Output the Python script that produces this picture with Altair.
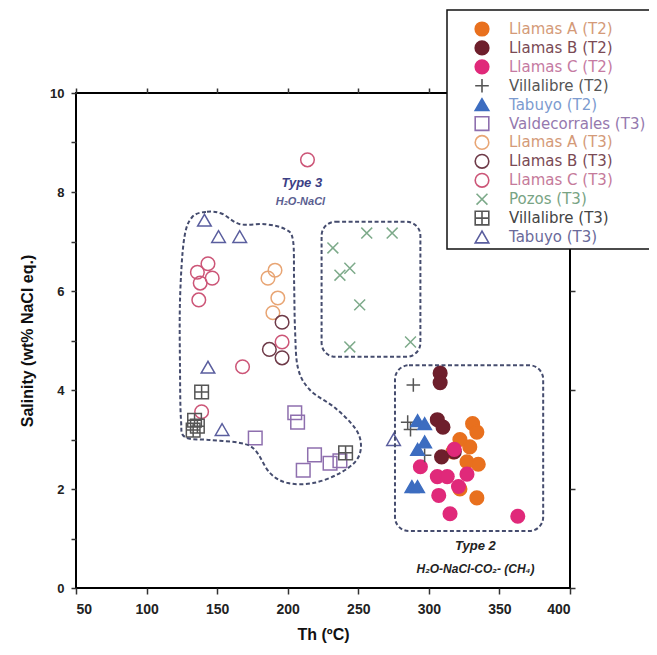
import altair as alt
import pandas as pd

# ---------------- series definitions ----------------
series_names = ["Llamas A (T2)", "Llamas B (T2)", "Llamas C (T2)", "Villalibre (T2)", "Tabuyo (T2)",
                "Valdecorrales (T3)", "Llamas A (T3)", "Llamas B (T3)", "Llamas C (T3)", "Pozos (T3)",
                "Villalibre (T3)", "Tabuyo (T3)"]
marker_stroke = ["#E8701E", "#6E1F2C", "#E0297A", "#555555", "#3D6DC0",
                 "#8E6FAE", "#E8A574", "#6E3A48", "#CC5577", "#7DAA8A", "#555555", "#5A5E9E"]
marker_fill = ["#E8701E", "#6E1F2C", "#E0297A", "transparent", "#3D6DC0",
               "transparent", "transparent", "transparent", "transparent", "transparent", "transparent", "transparent"]
PLUS = "M0,-1V1M-1,0H1"
XMARK = "M-0.8,-0.8L0.8,0.8M-0.8,0.8L0.8,-0.8"
SQPLUS = "M-1,-1H1V1H-1ZM0,-1V1M-1,0H1"
marker_shape = ["circle", "circle", "circle", PLUS, "triangle-up",
                "square", "circle", "circle", "circle", XMARK, SQPLUS, "triangle-up"]
marker_size = [185, 185, 185, 110, 130, 80, 150, 150, 150, 95, 95, 120]
legend_symbol_size = [190, 190, 190, 100, 150, 90, 150, 150, 150, 100, 100, 150]
label_colors = ["#D49A78", "#7A4A55", "#C57AA2", "#555555", "#7C9BCF",
                "#9579AE", "#D49A78", "#7A4A55", "#C57A9A", "#78A484", "#444444", "#6A6A9A"]

# ---------------- data (Th °C, salinity wt% NaCl eq.) ----------------
llamasA_T2_th = [331, 334, 322, 329, 317, 327, 335, 322, 334]
llamasA_T2_sal = [3.32, 3.15, 3.0, 2.85, 2.75, 2.55, 2.5, 2.0, 1.82]
llamasB_T2_th = [308, 308, 306, 310, 309, 318]
llamasB_T2_sal = [4.34, 4.15, 3.4, 3.25, 2.65, 2.75]
llamasC_T2_th = [294, 306, 313, 307, 315, 321, 327, 318, 363]
llamasC_T2_sal = [2.45, 2.25, 2.25, 1.87, 1.5, 2.05, 2.3, 2.8, 1.45]
villalibre_T2_th = [289, 285, 287, 297]
villalibre_T2_sal = [4.1, 3.35, 3.2, 2.68]
tabuyo_T2_th = [292, 297, 297, 292, 288, 292]
tabuyo_T2_sal = [3.38, 3.32, 2.95, 2.8, 2.05, 2.05]
valdecorrales_T3_th = [177, 205, 207, 219, 230, 211, 237]
valdecorrales_T3_sal = [3.03, 3.54, 3.35, 2.69, 2.52, 2.38, 2.57]
llamasA_T3_th = [186, 191, 193, 189.5]
llamasA_T3_sal = [6.26, 6.42, 5.86, 5.56]
llamasB_T3_th = [196, 187, 196]
llamasB_T3_sal = [5.37, 4.82, 4.65]
llamasC_T3_th = [214, 143.5, 136, 146.5, 138, 137, 168, 139, 196]
llamasC_T3_sal = [8.65, 6.55, 6.38, 6.26, 6.16, 5.82, 4.47, 3.56, 4.97]
pozos_T3_th = [256, 274, 232, 244, 237, 251, 244, 287]
pozos_T3_sal = [7.17, 7.17, 6.87, 6.46, 6.32, 5.72, 4.87, 4.97]
villalibre_T3_th = [139, 134, 136, 133, 241]
villalibre_T3_sal = [3.96, 3.39, 3.27, 3.19, 2.73]
tabuyo_T3_th = [141, 151, 166, 143.5, 153.5, 275]
tabuyo_T3_sal = [7.43, 7.1, 7.1, 4.46, 3.2, 3.0]

series_data = [
    (llamasA_T2_th, llamasA_T2_sal), (llamasB_T2_th, llamasB_T2_sal), (llamasC_T2_th, llamasC_T2_sal),
    (villalibre_T2_th, villalibre_T2_sal), (tabuyo_T2_th, tabuyo_T2_sal),
    (valdecorrales_T3_th, valdecorrales_T3_sal), (llamasA_T3_th, llamasA_T3_sal),
    (llamasB_T3_th, llamasB_T3_sal), (llamasC_T3_th, llamasC_T3_sal), (pozos_T3_th, pozos_T3_sal),
    (villalibre_T3_th, villalibre_T3_sal), (tabuyo_T3_th, tabuyo_T3_sal),
]

# ---------------- fluid-inclusion type outlines ----------------
type3_outline_th = [132.2, 142.8, 153.4, 166.2, 183.9, 198.1, 203.7, 204.5, 205.2, 207.3, 215.8, 233.5,
                    247.7, 251.9, 248.4, 235.6, 217.9, 200.2, 187.5, 176.8, 166.2, 144.9, 127.2, 124.4,
                    123.7, 123.7, 126.5]
type3_outline_sal = [7.49, 7.60, 7.56, 7.35, 7.35, 7.25, 7.03, 6.22, 5.21, 4.44, 4.00, 3.64,
                     3.23, 2.89, 2.57, 2.30, 2.12, 2.12, 2.32, 2.79, 2.93, 2.99, 3.05, 3.39,
                     4.40, 5.82, 7.03]
box_names = ["pozos", "type2"]
box_th_min = [224, 276]
box_th_max = [294, 381]
box_sal_min = [4.67, 1.15]
box_sal_max = [7.4, 4.5]

label_text = ["Type 3", "H₂O-NaCl", "Type 2", "H₂O-NaCl-CO₂- (CH₄)"]
label_th = [210, 209, 333, 333]
label_sal = [8.18, 7.79, 0.84, 0.38]

# ---------------- build tables ----------------
rows = []
for name, (ths, sals) in zip(series_names, series_data):
    for t, s in zip(ths, sals):
        rows.append({"series": name, "th": t, "sal": s})
pts = pd.DataFrame(rows)

outline = pd.DataFrame({"i": list(range(len(type3_outline_th))),
                        "th": type3_outline_th, "sal": type3_outline_sal})
boxes = pd.DataFrame({"name": box_names, "x1": box_th_min, "x2": box_th_max,
                      "y1": box_sal_min, "y2": box_sal_max})
labels = pd.DataFrame({"text": label_text, "th": label_th, "sal": label_sal,
                       "kind": ["title3", "sub3", "title2", "sub2"]})
legend_df = pd.DataFrame({"series": series_names})

xscale = alt.Scale(domain=[50, 400], nice=False, zero=False)
yscale = alt.Scale(domain=[0, 10], nice=False, zero=False)

stroke_scale = alt.Scale(domain=series_names, range=marker_stroke)
fill_scale = alt.Scale(domain=series_names, range=marker_fill)
shape_scale = alt.Scale(domain=series_names, range=marker_shape)

x_axis = alt.Axis(values=[50, 100, 150, 200, 250, 300, 350, 400], title="Th (ºC)",
                  grid=False, domain=False, tickSize=6, labelPadding=8, titlePadding=10,
                  labelFontSize=14, titleFontSize=16)
y_axis = alt.Axis(values=list(range(0, 11)), title="Salinity (wt% NaCl eq.)",
                  labelExpr="datum.value % 2 == 0 ? datum.label : ''",
                  grid=False, domain=False, tickSize=5, labelPadding=7, titlePadding=14,
                  labelFontSize=13, titleFontSize=16)

points = alt.Chart(pts).mark_point(strokeWidth=1.5, opacity=1, fillOpacity=1).encode(
    x=alt.X("th:Q", scale=xscale, axis=x_axis),
    y=alt.Y("sal:Q", scale=yscale, axis=y_axis),
    stroke=alt.Stroke("series:N", scale=stroke_scale, legend=None),
    fill=alt.Fill("series:N", scale=fill_scale, legend=None),
    shape=alt.Shape("series:N", scale=shape_scale, legend=None),
    size=alt.Size("series:N", scale=alt.Scale(domain=series_names, range=marker_size), legend=None),
)

outline_color = "#454C6E"
blob = alt.Chart(outline).mark_line(interpolate="cardinal-closed", stroke=outline_color,
                                     strokeWidth=2, strokeDash=[4, 2.5]).encode(
    x=alt.X("th:Q", scale=xscale, axis=None),
    y=alt.Y("sal:Q", scale=yscale, axis=None),
    order=alt.Order("i:Q"),
)

box_layer = alt.Chart(boxes).mark_rect(fill="transparent", stroke=outline_color, strokeWidth=2,
                                        strokeDash=[4, 2.5], cornerRadius=14).encode(
    x=alt.X("x1:Q", scale=xscale,
            axis=alt.Axis(orient="top", labels=False, title=None, domain=False, grid=False,
                          ticks=True, tickSize=5, values=[50, 100, 150, 200, 250, 300, 350, 400])),
    x2="x2:Q",
    y=alt.Y("y1:Q", scale=yscale,
            axis=alt.Axis(orient="right", labels=False, title=None, domain=False, grid=False,
                          ticks=True, tickSize=5, values=list(range(0, 11, 2)))),
    y2="y2:Q",
)

base_text = alt.Chart(labels)
enc = dict(x=alt.X("th:Q", scale=xscale, axis=None), y=alt.Y("sal:Q", scale=yscale, axis=None), text="text:N")
t_title3 = base_text.transform_filter("datum.kind == 'title3'").mark_text(
    fontStyle="italic", fontWeight="bold", fontSize=13, color="#3C3F85", font="Liberation Sans").encode(**enc)
t_sub3 = base_text.transform_filter("datum.kind == 'sub3'").mark_text(
    fontStyle="italic", fontWeight="bold", fontSize=11, color="#5A5E90", font="Liberation Sans").encode(**enc)
t_title2 = base_text.transform_filter("datum.kind == 'title2'").mark_text(
    fontStyle="italic", fontWeight="bold", fontSize=13, color="#222222", font="Liberation Sans").encode(**enc)
t_sub2 = base_text.transform_filter("datum.kind == 'sub2'").mark_text(
    fontStyle="italic", fontWeight="bold", fontSize=12, color="#222222", font="Liberation Sans").encode(**enc)

# ---------------- legend (drawn as its own layer) ----------------
legend_rows = alt.Scale(domain=series_names, range=[-64, 144], padding=0)
legend_box = alt.Chart(pd.DataFrame({"k": [0]})).mark_rect(
    fill="white", stroke="#111111", strokeWidth=1.5).encode(
    x=alt.value(371), x2=alt.value(585), y=alt.value(-83), y2=alt.value(156))
legend_symbols = alt.Chart(legend_df).mark_point(strokeWidth=1.6, opacity=1, fillOpacity=1).encode(
    x=alt.value(406),
    y=alt.Y("series:N", scale=legend_rows, axis=None),
    stroke=alt.Stroke("series:N", scale=stroke_scale, legend=None),
    fill=alt.Fill("series:N", scale=fill_scale, legend=None),
    shape=alt.Shape("series:N", scale=shape_scale, legend=None),
    size=alt.Size("series:N", scale=alt.Scale(domain=series_names, range=legend_symbol_size), legend=None),
)
legend_labels = alt.Chart(legend_df).mark_text(
    align="left", baseline="middle", fontSize=15, font="DejaVu Sans").encode(
    x=alt.value(433),
    y=alt.Y("series:N", scale=legend_rows, axis=None),
    text="series:N",
    color=alt.Color("series:N", scale=alt.Scale(domain=series_names, range=label_colors), legend=None),
)

chart = alt.layer(points, box_layer, blob, t_title3, t_sub3, t_title2, t_sub2,
                  legend_box, legend_symbols, legend_labels).resolve_axis(
    x="independent", y="independent"
).resolve_scale(
    y="independent"
).properties(
    width=494, height=495,
    padding={"left": 68, "top": 85, "right": 79, "bottom": 55},
    autosize=alt.AutoSizeParams(type="none"),
).configure_view(
    stroke="black", strokeWidth=2
).configure_axis(
    labelFont="Liberation Sans", labelFontWeight="bold", labelColor="#222222",
    titleFont="Liberation Sans", titleFontWeight="bold", titleColor="#111111",
    tickColor="#333333", tickWidth=1.5
)

chart.save("out.html", embed_options={"renderer": "svg", "actions": False})
